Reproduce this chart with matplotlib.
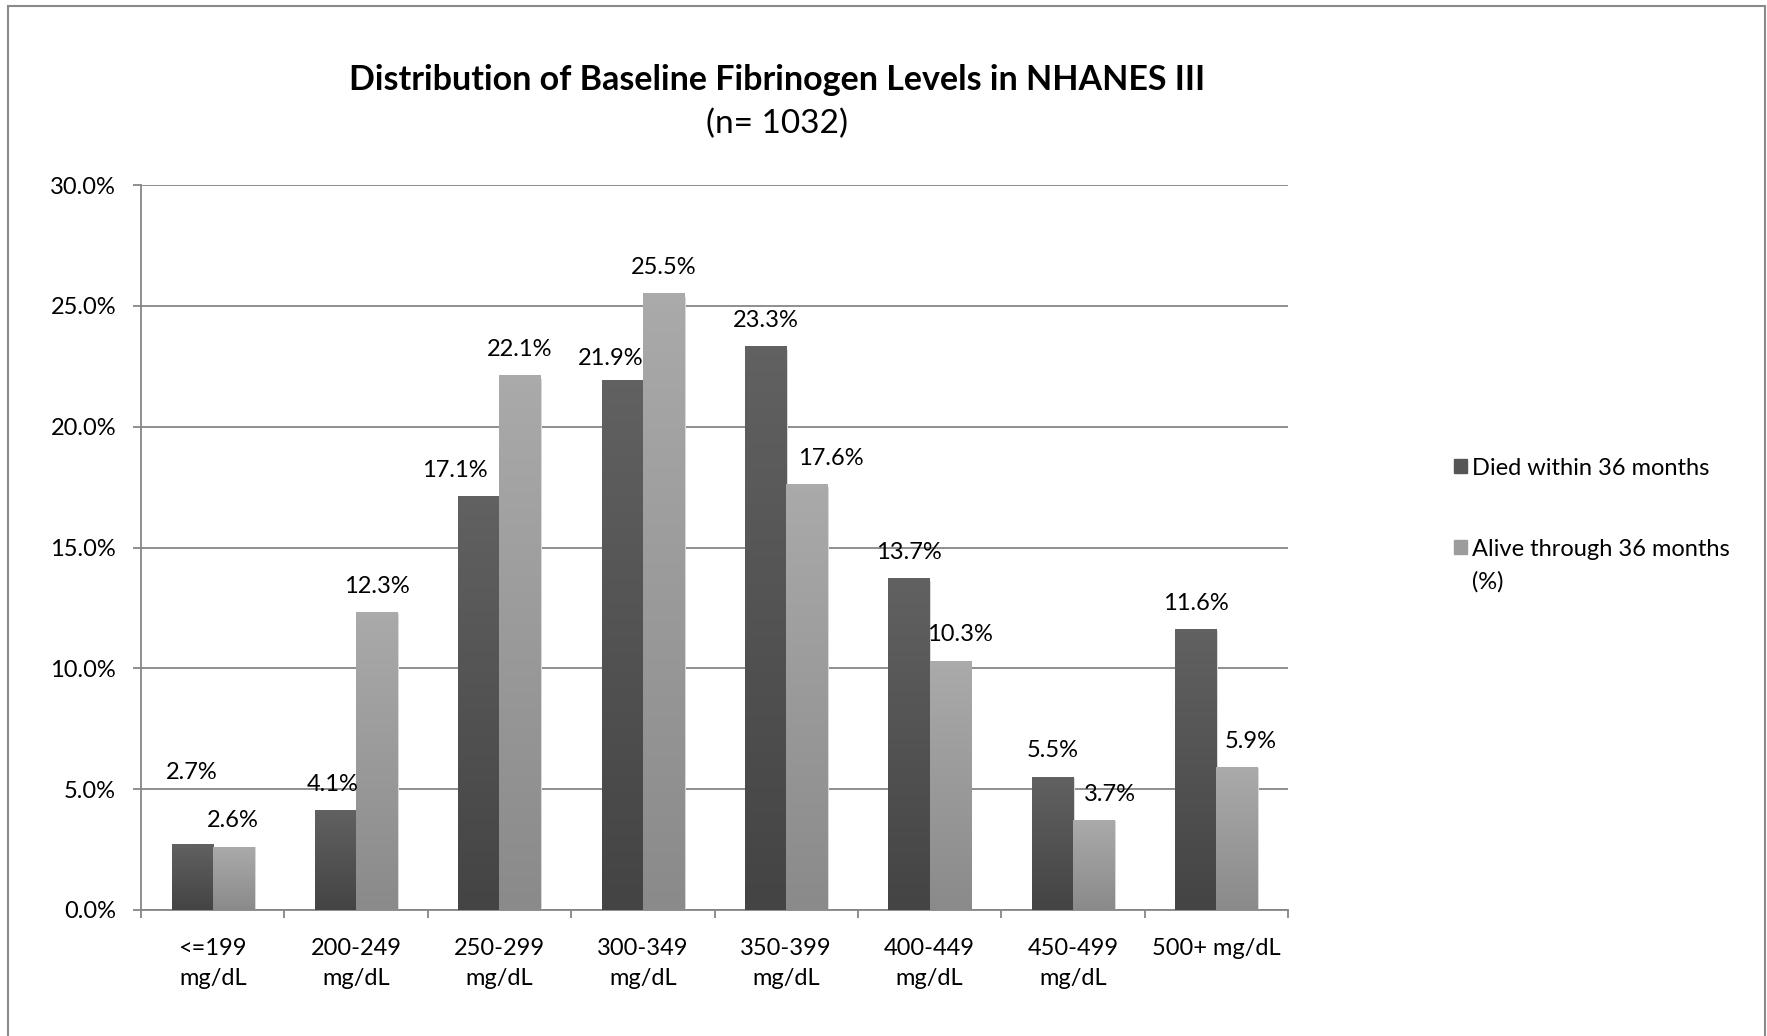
import matplotlib
matplotlib.use("Agg")
import matplotlib.pyplot as plt
import numpy as np
from matplotlib.patches import Rectangle
from matplotlib.ticker import FuncFormatter, MultipleLocator

plt.rcParams['font.family'] = ['Lato', 'DejaVu Sans']

categories = ['<=199\nmg/dL', '200-249\nmg/dL', '250-299\nmg/dL', '300-349\nmg/dL',
              '350-399\nmg/dL', '400-449\nmg/dL', '450-499\nmg/dL', '500+ mg/dL']
died = [2.7, 4.1, 17.1, 21.9, 23.3, 13.7, 5.5, 11.6]
alive = [2.6, 12.3, 22.1, 25.5, 17.6, 10.3, 3.7, 5.9]
series_names = ['Died within 36 months', 'Alive through 36 months\n(%)']

# label nudges (points) to mimic the original placement
died_dx = [0, -2, -17, -8, 0, 0, 0, 0]
died_dy = [33, 0, 0, -3, 0, 0, 0, 0]
alive_dx = [0, 0, 0, 0, 17, 7, 12, 10]

W, H = 1767, 1036
FS = 17
fig = plt.figure(figsize=(W / 100, H / 100), dpi=100)
ax = fig.add_axes([141 / W, 1 - 910 / H, (1288 - 141) / W, (910 - 185) / H])

grid_col = '#868686'
x = np.arange(len(categories))
w = 0.287


def gradient_bars(bars, top, bottom):
    grad = np.linspace(0, 1, 64).reshape(-1, 1)
    c_top = np.array(matplotlib.colors.to_rgb(top))
    c_bot = np.array(matplotlib.colors.to_rgb(bottom))
    img = c_top[None, None, :] * (1 - grad[..., None]) + c_bot[None, None, :] * grad[..., None]
    for b in bars:
        bx, by = b.get_x(), b.get_y()
        bw, bh = b.get_width(), b.get_height()
        ax.imshow(img, extent=[bx, bx + bw, by, by + bh], aspect='auto',
                  origin='upper', zorder=3)
        # faint shadow on the right side
        ax.add_patch(Rectangle((bx + bw, by), 0.012, bh * 0.995, color='#d8d8d8',
                               zorder=2.5, lw=0))


bars_d = ax.bar(x - w / 2, died, w, color='none', zorder=3)
bars_a = ax.bar(x + w / 2, alive, w, color='none', zorder=3)
gradient_bars(bars_d, '#616161', '#444444')
gradient_bars(bars_a, '#aaaaaa', '#8a8a8a')

for i, b in enumerate(bars_d):
    ax.annotate(f'{died[i]:.1f}%', (b.get_x() + b.get_width() / 2, b.get_height()),
                xytext=(died_dx[i], 19 + died_dy[i]), textcoords='offset points',
                ha='center', va='center', fontsize=FS, zorder=5)
for i, b in enumerate(bars_a):
    ax.annotate(f'{alive[i]:.1f}%', (b.get_x() + b.get_width() / 2, b.get_height()),
                xytext=(alive_dx[i], 19), textcoords='offset points',
                ha='center', va='center', fontsize=FS, zorder=5)

ax.set_xlim(-0.5, len(categories) - 0.5)
ax.set_ylim(0, 30)
ax.yaxis.set_major_locator(MultipleLocator(5))
ax.yaxis.set_major_formatter(FuncFormatter(lambda v, p: f'{v:.1f}%'))
ax.yaxis.grid(True, color=grid_col, lw=1.3, zorder=0)
ax.set_axisbelow(True)

ax.set_xticks(x)
ax.set_xticklabels(categories, fontsize=FS, linespacing=1.55)
ax.set_xticks(np.arange(-0.5, len(categories)), minor=True)
ax.tick_params(axis='x', which='major', length=0, pad=20)
ax.tick_params(axis='x', which='minor', length=6, color=grid_col, width=1.3)
ax.tick_params(axis='y', length=6, color=grid_col, width=1.3, labelsize=FS, pad=12)

for s in ['top', 'right']:
    ax.spines[s].set_visible(False)
for s in ['left', 'bottom']:
    ax.spines[s].set_color(grid_col)
    ax.spines[s].set_linewidth(1.3)

fig.text(777 / W, 1 - 80 / H, 'Distribution of Baseline Fibrinogen Levels in NHANES III',
         ha='center', va='center', fontsize=24.5, fontweight='bold')
fig.text(777 / W, 1 - 124 / H, '(n= 1032)', ha='center', va='center', fontsize=24)

# legend
leg_cols = ['#555555', '#9c9c9c']
leg_y = [466, 547]
for col, name, ly in zip(leg_cols, series_names, leg_y):
    fig.patches.append(Rectangle((1454 / W, 1 - (ly + 7) / H), 13 / W, 14 / H,
                                 transform=fig.transFigure, color=col))
    fig.text(1472 / W, 1 - (ly - 8) / H, name, ha='left', va='top', fontsize=FS,
             linespacing=1.62)

# chart border
fig.patches.append(Rectangle((8 / W, -0.05), (1765 - 8) / W, 1.05 - 6 / H,
                             transform=fig.transFigure, fill=False,
                             edgecolor='#8a8a8a', lw=1.5))

fig.savefig('out.png', dpi=100)
